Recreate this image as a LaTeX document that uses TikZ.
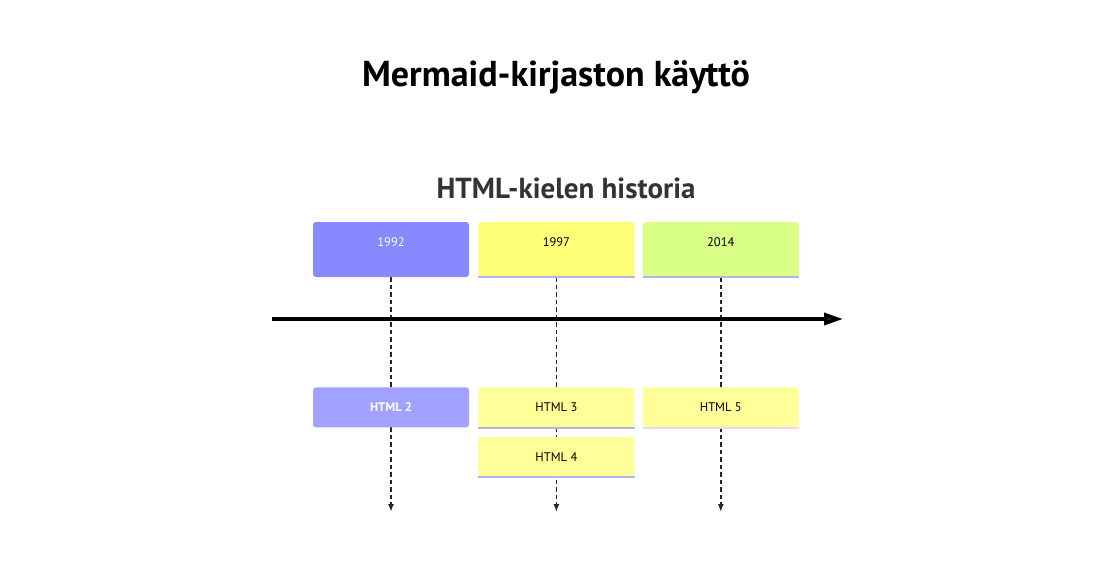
\documentclass[tikz,border=0pt]{standalone}
\usepackage{fontspec}
\setmainfont{PT Sans}
\usetikzlibrary{positioning}
\usetikzlibrary{arrows.meta}
\usetikzlibrary{backgrounds}

\definecolor{secA}{HTML}{8888FF}
\definecolor{secB}{HTML}{FFFF78}
\definecolor{secC}{HTML}{D9FF86}
\definecolor{evtA}{HTML}{A1A1FF}
\definecolor{evtB}{HTML}{FFFF99}
\definecolor{edgeB}{HTML}{B4B4E6}
\definecolor{edgeC}{HTML}{F2D4F0}

\tikzset{
  yearbox/.style={rectangle, rounded corners=3pt, minimum width=156pt,
    minimum height=55pt, inner sep=0pt},
  yeartext/.style={font=\fontsize{12.5}{14}\selectfont, anchor=center},
  eventbox/.style={rectangle, rounded corners=3pt, minimum width=156pt,
    minimum height=40pt, inner sep=0pt, font=\fontsize{12.5}{14}\selectfont},
  timeline/.style={dash pattern=on 4.5pt off 3pt, line width=1.8pt,
    black!85, -{Latex[length=8pt,width=6pt]}},
}

\begin{document}
\begin{tikzpicture}[x=1pt, y=-1pt]
\useasboundingbox (0,0) rectangle (1110,584);

% titles
\node[font=\bfseries\fontsize{36}{40}\selectfont] (title) at (556,77) {Mermaid-kirjaston käyttö};
\node[font=\bfseries\fontsize{29}{34}\selectfont, text=black!80] (subtitle) at (566,188) {HTML-kielen historia};

% 1992
\node[yearbox, fill=secA] (y1992) at (391,249.5) {};
\node[yeartext, text=white] at ([yshift=-20pt]y1992.north) {1992};

% 1997
\node[yearbox, fill=secB, right=9pt of y1992] (y1997) {};
\node[yeartext] at ([yshift=-20pt]y1997.north) {1997};
\draw[edgeB, line width=2pt] (y1997.south west) -- (y1997.south east);

% 2014
\node[yearbox, fill=secC, right=8pt of y1997] (y2014) {};
\node[yeartext] at ([yshift=-20pt]y2014.north) {2014};
\draw[edgeB, line width=2pt] (y2014.south west) -- (y2014.south east);

% events
\node[eventbox, fill=evtA, text=white, below=110pt of y1992] (html2) {\bfseries HTML 2};
\node[eventbox, fill=evtB, below=110pt of y1997] (html3) {HTML 3};
\draw[edgeB, line width=2pt] (html3.south west) -- (html3.south east);
\node[eventbox, fill=evtB, below=9pt of html3] (html4) {HTML 4};
\draw[edgeB, line width=2pt] (html4.south west) -- (html4.south east);
\node[eventbox, fill=evtB, below=110pt of y2014] (html5) {HTML 5};
\draw[edgeC, line width=2pt] (html5.south west) -- (html5.south east);

% axis
\coordinate (t-start) at (272,319);
\coordinate (t-end) at (843,319);
\draw[line width=3.5pt, -{Triangle[length=19pt,width=12pt,fill=black!80]}] (t-start) -- (t-end);

% dashed lines
\coordinate (e1992) at (y1992.south |- 0,512);
\coordinate (e1997) at (y1997.south |- 0,512);
\coordinate (e2014) at (y2014.south |- 0,512);
\begin{pgfonlayer}{background}
\draw[timeline] (y1992.south) -- (e1992);
\draw[timeline] (y1997.south) -- (e1997);
\draw[timeline] (y2014.south) -- (e2014);
\end{pgfonlayer}
\end{tikzpicture}
\end{document}
